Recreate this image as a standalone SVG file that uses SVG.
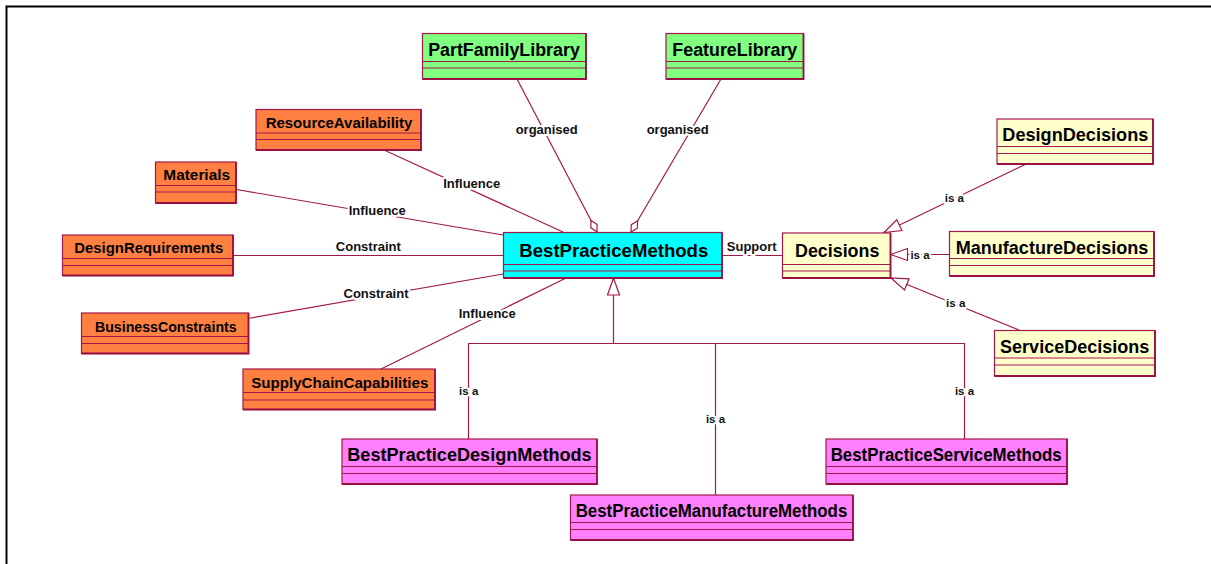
<svg xmlns="http://www.w3.org/2000/svg" width="1211" height="564" viewBox="0 0 1211 564">
  <style>
    .box { stroke: #A3184C; stroke-width: 1.2; }
    .sep { stroke: #A3184C; stroke-width: 1.2; fill: none; }
    .edge { stroke: #9A0F42; stroke-width: 1.8; fill: none; }
    .orange { fill: #FF8040; }
    .green { fill: #80FF80; }
    .cyan { fill: #00FFFF; }
    .yellow { fill: #FFFFCC; }
    .pink { fill: #FF80FF; }
    .name { font-family: "Liberation Sans", Arial, sans-serif; font-weight: bold; fill: #000; text-anchor: middle; }
    .big { font-size: 18px; }
    .small { font-size: 15px; }
    .main { font-size: 19px; }
    .conn { stroke: #A3184C; stroke-width: 1.2; fill: none; }
    .lbl { font-family: "Liberation Sans", Arial, sans-serif; font-weight: bold; font-size: 13px; fill: #111; text-anchor: middle; stroke: #fff; stroke-width: 4; stroke-linejoin: round; paint-order: stroke; }
    .isa { font-size: 11.5px; }
  </style>
  <defs>
    <marker id="agg" markerUnits="userSpaceOnUse" markerWidth="16" markerHeight="10" viewBox="-14 -5 16 10" refX="0" refY="0" orient="auto">
      <path d="M0,0 L-6.5,-3.5 L-13,0 L-6.5,3.5 Z" fill="#fff" stroke="#A3184C" stroke-width="1.2"/>
    </marker>
    <marker id="gen" markerUnits="userSpaceOnUse" markerWidth="20" markerHeight="16" viewBox="-18 -8 20 16" refX="0" refY="0" orient="auto">
      <path d="M0,0 L-17,-6 L-17,6 Z" fill="#fff" stroke="#A3184C" stroke-width="1.2"/>
    </marker>
  </defs>

  <rect width="1211" height="564" fill="#fff"/>
  <!-- page frame: top and left rules -->
  <path d="M6.5,564 L6.5,6.5 L1211,6.5" fill="none" stroke="#000" stroke-width="2"/>

  <!-- connectors -->
  <g id="connectors">
    <!-- aggregations into BestPracticeMethods -->
    <line class="conn" x1="517" y1="79" x2="597" y2="232" marker-end="url(#agg)"/>
    <line class="conn" x1="721" y1="79" x2="631" y2="232" marker-end="url(#agg)"/>
    <!-- associations -->
    <line class="conn" x1="384" y1="150" x2="563" y2="232"/>
    <line class="conn" x1="236.5" y1="189.5" x2="503" y2="235"/>
    <line class="conn" x1="233" y1="255.5" x2="503" y2="255.5"/>
    <line class="conn" x1="248" y1="318.5" x2="503" y2="274"/>
    <line class="conn" x1="381" y1="369" x2="566" y2="278"/>
    <line class="conn" x1="722" y1="255.5" x2="782" y2="255.5"/>
    <!-- Decisions specialisations -->
    <line class="conn" x1="1026" y1="164" x2="884" y2="232.5" marker-end="url(#gen)"/>
    <line class="conn" x1="949" y1="254.5" x2="890.5" y2="254.5" marker-end="url(#gen)"/>
    <line class="conn" x1="1019" y1="330" x2="891" y2="278" marker-end="url(#gen)"/>
    <!-- BestPracticeMethods specialisation tree -->
    <line class="conn" x1="613.5" y1="343.5" x2="613.5" y2="278" marker-end="url(#gen)"/>
    <path class="conn" d="M468.5,439 L468.5,343.5 L964.5,343.5 L964.5,439"/>
    <line class="conn" x1="715.5" y1="343.5" x2="715.5" y2="495"/>

    <!-- connector labels -->
    <text class="lbl" x="546.7" y="134.3">organised</text>
    <text class="lbl" x="677.7" y="134.3">organised</text>
    <text class="lbl" x="471.7" y="187.7">Influence</text>
    <text class="lbl" x="377.3" y="215">Influence</text>
    <text class="lbl" x="368.3" y="250.7">Constraint</text>
    <text class="lbl" x="376" y="297.7">Constraint</text>
    <text class="lbl" x="487.3" y="317.7">Influence</text>
    <text class="lbl" x="751.7" y="250.7">Support</text>
    <text class="lbl isa" x="954.3" y="201.7">is a</text>
    <text class="lbl isa" x="920" y="258.5">is a</text>
    <text class="lbl isa" x="955.7" y="307.3">is a</text>
    <text class="lbl isa" x="468.7" y="394.5">is a</text>
    <text class="lbl isa" x="715.5" y="422.7">is a</text>
    <text class="lbl isa" x="964.5" y="394.7">is a</text>
  </g>

  <!-- library classes -->
  <g id="PartFamilyLibrary">
    <rect class="box green" x="422.5" y="33.5" width="163.5" height="45.5"/>
    <path class="sep" d="M422.5,61.5 H586 M422.5,68 H586"/>
    <path class="edge" d="M422.5,79 H586 V33.5"/>
    <text class="name big" x="504" y="56" textLength="151.7" lengthAdjust="spacingAndGlyphs">PartFamilyLibrary</text>
  </g>
  <g id="FeatureLibrary">
    <rect class="box green" x="666" y="33.5" width="137.5" height="45.5"/>
    <path class="sep" d="M666,61.5 H803.5 M666,68 H803.5"/>
    <path class="edge" d="M666,79 H803.5 V33.5"/>
    <text class="name big" x="734.8" y="56" textLength="125" lengthAdjust="spacingAndGlyphs">FeatureLibrary</text>
  </g>

  <!-- influencing classes -->
  <g id="ResourceAvailability">
    <rect class="box orange" x="256" y="109.5" width="165" height="40.5"/>
    <path class="sep" d="M256,133 H421 M256,139.5 H421"/>
    <path class="edge" d="M256,150 H421 V109.5"/>
    <text class="name small" x="339" y="128" textLength="146.7" lengthAdjust="spacingAndGlyphs">ResourceAvailability</text>
  </g>
  <g id="Materials">
    <rect class="box orange" x="155.5" y="162" width="80.5" height="41"/>
    <path class="sep" d="M155.5,185.5 H236 M155.5,192 H236"/>
    <path class="edge" d="M155.5,203 H236 V162"/>
    <text class="name small" x="196.7" y="179.5" textLength="66.7" lengthAdjust="spacingAndGlyphs">Materials</text>
  </g>
  <g id="DesignRequirements">
    <rect class="box orange" x="62.5" y="235" width="170.5" height="40.5"/>
    <path class="sep" d="M62.5,258.5 H233 M62.5,265.5 H233"/>
    <path class="edge" d="M62.5,275.5 H233 V235"/>
    <text class="name small" x="148.8" y="253.3" textLength="149" lengthAdjust="spacingAndGlyphs">DesignRequirements</text>
  </g>
  <g id="BusinessConstraints">
    <rect class="box orange" x="81.5" y="313" width="167" height="40.5"/>
    <path class="sep" d="M81.5,336.5 H248.5 M81.5,343.5 H248.5"/>
    <path class="edge" d="M81.5,353.5 H248.5 V313"/>
    <text class="name small" x="165.8" y="331.5" textLength="141.7" lengthAdjust="spacingAndGlyphs">BusinessConstraints</text>
  </g>
  <g id="SupplyChainCapabilities">
    <rect class="box orange" x="243" y="369" width="192" height="40.5"/>
    <path class="sep" d="M243,392.5 H435 M243,400 H435"/>
    <path class="edge" d="M243,409.5 H435 V369"/>
    <text class="name small" x="339.8" y="387.5" textLength="177" lengthAdjust="spacingAndGlyphs">SupplyChainCapabilities</text>
  </g>

  <!-- central class -->
  <g id="BestPracticeMethods">
    <rect class="box cyan" x="503.5" y="232.5" width="218.5" height="45.5"/>
    <path class="sep" d="M503.5,264.5 H722 M503.5,271 H722"/>
    <path class="edge" d="M503.5,278 H722 V232.5"/>
    <text class="name main" x="613.8" y="257.3" textLength="189" lengthAdjust="spacingAndGlyphs">BestPracticeMethods</text>
  </g>

  <!-- decision classes -->
  <g id="Decisions">
    <rect class="box yellow" x="782.5" y="233" width="108" height="45"/>
    <path class="sep" d="M782.5,264.5 H890.5 M782.5,271 H890.5"/>
    <path class="edge" d="M782.5,278 H890.5 V233"/>
    <text class="name big" x="837.2" y="256.7" textLength="84.3" lengthAdjust="spacingAndGlyphs">Decisions</text>
  </g>
  <g id="DesignDecisions">
    <rect class="box yellow" x="997" y="119" width="156" height="45"/>
    <path class="sep" d="M997,146.5 H1153 M997,153.5 H1153"/>
    <path class="edge" d="M997,164 H1153 V119"/>
    <text class="name big" x="1075.3" y="141" textLength="146" lengthAdjust="spacingAndGlyphs">DesignDecisions</text>
  </g>
  <g id="ManufactureDecisions">
    <rect class="box yellow" x="949.5" y="231.5" width="204.5" height="44.5"/>
    <path class="sep" d="M949.5,258.5 H1154 M949.5,265.5 H1154"/>
    <path class="edge" d="M949.5,276 H1154 V231.5"/>
    <text class="name big" x="1052" y="253.5" textLength="192.6" lengthAdjust="spacingAndGlyphs">ManufactureDecisions</text>
  </g>
  <g id="ServiceDecisions">
    <rect class="box yellow" x="994.5" y="330.5" width="160.5" height="45.5"/>
    <path class="sep" d="M994.5,358 H1155 M994.5,365 H1155"/>
    <path class="edge" d="M994.5,376 H1155 V330.5"/>
    <text class="name big" x="1074.7" y="352.5" textLength="149.3" lengthAdjust="spacingAndGlyphs">ServiceDecisions</text>
  </g>

  <!-- method specialisations -->
  <g id="BestPracticeDesignMethods">
    <rect class="box pink" x="342" y="439" width="255" height="45"/>
    <path class="sep" d="M342,466.5 H597 M342,473.5 H597"/>
    <path class="edge" d="M342,484 H597 V439"/>
    <text class="name big" x="469.5" y="461" textLength="244.4" lengthAdjust="spacingAndGlyphs">BestPracticeDesignMethods</text>
  </g>
  <g id="BestPracticeManufactureMethods">
    <rect class="box pink" x="570.5" y="495" width="282.5" height="45"/>
    <path class="sep" d="M570.5,522.5 H853 M570.5,529.5 H853"/>
    <path class="edge" d="M570.5,540 H853 V495"/>
    <text class="name big" x="711.5" y="517" textLength="271.6" lengthAdjust="spacingAndGlyphs">BestPracticeManufactureMethods</text>
  </g>
  <g id="BestPracticeServiceMethods">
    <rect class="box pink" x="826" y="439" width="241" height="45"/>
    <path class="sep" d="M826,466.5 H1067 M826,473.5 H1067"/>
    <path class="edge" d="M826,484 H1067 V439"/>
    <text class="name big" x="946.2" y="461" textLength="231" lengthAdjust="spacingAndGlyphs">BestPracticeServiceMethods</text>
  </g>
</svg>
